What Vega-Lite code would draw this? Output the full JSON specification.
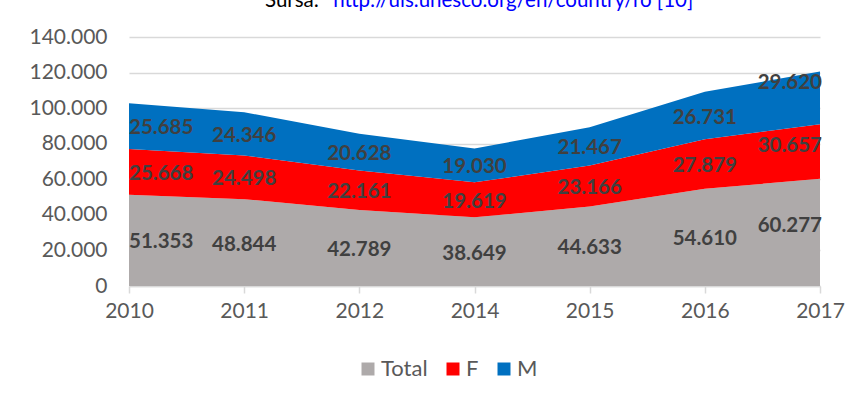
{
  "$schema": "https://vega.github.io/schema/vega-lite/v6.json",
  "width": 691,
  "height": 249,
  "autosize": "none",
  "padding": {"left": 129, "top": 37, "right": 38, "bottom": 116},
  "background": "white",
  "config": {
    "locale": {"number": {"decimal": ",", "thousands": ".", "grouping": [3], "currency": ["", ""]}},
    "font": "Lato",
    "view": {"stroke": null},
    "axisY": {
      "title": null,
      "values": [0, 20000, 40000, 60000, 80000, 100000, 120000, 140000],
      "format": ",d",
      "domain": false,
      "ticks": false,
      "labelOverlap": false,
      "labelFontSize": 21,
      "labelColor": "#595959",
      "labelFont": "Lato",
      "labelPadding": 22,
      "gridColor": "#D9D9D9",
      "gridWidth": 1.5,
      "grid": true
    }
  },
  "title": {
    "text": "Sursa:",
    "subtitle": "\u200b\u00a0\u00a0\u00a0\u00a0\u00a0\u00a0\u00a0\u00a0\u00a0\u00a0\u00a0\u00a0\u00a0http://uis.unesco.org/en/country/ro [10]",
    "anchor": "start",
    "frame": "group",
    "dx": 136,
    "offset": 15,
    "font": "Lato",
    "subtitleFont": "Lato",
    "fontSize": 20.5,
    "subtitleFontSize": 20.5,
    "fontWeight": "normal",
    "color": "#000000",
    "subtitleColor": "#0000FF",
    "subtitlePadding": -20.5
  },
  "data": {
    "values": [
      {"year": "2010", "series": "Total", "value": 51353},
      {"year": "2010", "series": "F", "value": 25668},
      {"year": "2010", "series": "M", "value": 25685},
      {"year": "2011", "series": "Total", "value": 48844},
      {"year": "2011", "series": "F", "value": 24498},
      {"year": "2011", "series": "M", "value": 24346},
      {"year": "2012", "series": "Total", "value": 42789},
      {"year": "2012", "series": "F", "value": 22161},
      {"year": "2012", "series": "M", "value": 20628},
      {"year": "2014", "series": "Total", "value": 38649},
      {"year": "2014", "series": "F", "value": 19619},
      {"year": "2014", "series": "M", "value": 19030},
      {"year": "2015", "series": "Total", "value": 44633},
      {"year": "2015", "series": "F", "value": 23166},
      {"year": "2015", "series": "M", "value": 21467},
      {"year": "2016", "series": "Total", "value": 54610},
      {"year": "2016", "series": "F", "value": 27879},
      {"year": "2016", "series": "M", "value": 26731},
      {"year": "2017", "series": "Total", "value": 60277},
      {"year": "2017", "series": "F", "value": 30657},
      {"year": "2017", "series": "M", "value": 29620}
    ]
  },
  "transform": [
    {"calculate": "indexof(['Total','F','M'], datum.series)", "as": "ord"},
    {"stack": "value", "groupby": ["year"], "sort": [{"field": "ord", "order": "ascending"}], "as": ["v0", "v1"]},
    {"calculate": "(datum.v0 + datum.v1) / 2", "as": "mid"}
  ],
  "encoding": {
    "x": {
      "field": "year",
      "type": "ordinal",
      "scale": {"type": "point", "padding": 0},
      "axis": {
        "title": null,
        "labelAngle": 0,
        "labelFontSize": 21,
        "labelColor": "#595959",
        "labelFont": "Lato",
        "domainColor": "#D9D9D9",
        "domainWidth": 1.5,
        "tickColor": "#D9D9D9",
        "tickWidth": 1.5,
        "tickSize": 7,
        "labelPadding": 7,
        "grid": false
      }
    }
  },
  "layer": [
    {
      "mark": {"type": "area", "opacity": 1},
      "encoding": {
        "y": {
          "field": "v1",
          "type": "quantitative",
          "title": null,
          "scale": {"domain": [0, 140000], "nice": false}
        },
        "y2": {"field": "v0"},
        "color": {
          "field": "series",
          "type": "nominal",
          "scale": {"domain": ["Total", "F", "M"], "range": ["#AEAAAA", "#FF0000", "#0070C0"]},
          "legend": {
            "title": null,
            "orient": "none",
            "direction": "horizontal",
            "legendX": 228,
            "legendY": 321,
            "symbolType": "square",
            "symbolSize": 169,
            "symbolStrokeWidth": 0,
            "labelFontSize": 22,
            "labelColor": "#595959",
            "labelFont": "Lato",
            "labelOffset": 2,
            "columnPadding": 14
          }
        },
        "order": {"field": "ord"}
      }
    },
    {
      "transform": [{"filter": "datum.year == '2010'"}],
      "mark": {"type": "text", "align": "left", "baseline": "middle", "dy": 2, "fontWeight": "bold", "fontSize": 20.5, "color": "#404040", "font": "Lato"},
      "encoding": {
        "y": {"field": "mid", "type": "quantitative", "title": null},
        "text": {"field": "value", "type": "quantitative", "format": ",d"}
      }
    },
    {
      "transform": [{"filter": "datum.year != '2010' && datum.year != '2017'"}],
      "mark": {"type": "text", "align": "center", "baseline": "middle", "dy": 2, "fontWeight": "bold", "fontSize": 20.5, "color": "#404040", "font": "Lato"},
      "encoding": {
        "y": {"field": "mid", "type": "quantitative", "title": null},
        "text": {"field": "value", "type": "quantitative", "format": ",d"}
      }
    },
    {
      "transform": [{"filter": "datum.year == '2017' && datum.series != 'M'"}],
      "mark": {"type": "text", "align": "right", "baseline": "middle", "dx": 2, "dy": -6, "fontWeight": "bold", "fontSize": 20.5, "color": "#404040", "font": "Lato"},
      "encoding": {
        "y": {"field": "mid", "type": "quantitative", "title": null},
        "text": {"field": "value", "type": "quantitative", "format": ",d"}
      }
    },
    {
      "transform": [{"filter": "datum.year == '2017' && datum.series == 'M'"}],
      "mark": {"type": "text", "align": "right", "baseline": "middle", "dx": 2, "dy": -15, "fontWeight": "bold", "fontSize": 20.5, "color": "#404040", "font": "Lato"},
      "encoding": {
        "y": {"field": "mid", "type": "quantitative", "title": null},
        "text": {"field": "value", "type": "quantitative", "format": ",d"}
      }
    }
  ]
}
